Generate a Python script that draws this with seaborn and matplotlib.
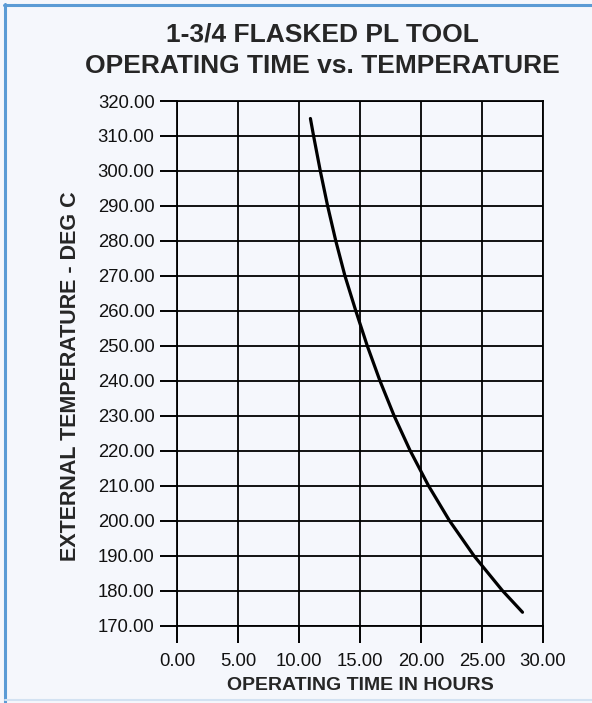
import matplotlib
matplotlib.use('Agg')
import matplotlib.pyplot as plt
from matplotlib.lines import Line2D
import pandas as pd
import seaborn as sns

# values
hours = [10.94, 11.2, 11.75, 12.35, 13.02, 13.77, 14.66, 15.6, 16.64,
         17.8, 19.12, 20.62, 22.34, 24.34, 26.68, 28.33]
temp_c = [315, 310, 300, 290, 280, 270, 260, 250, 240,
          230, 220, 210, 200, 190, 180, 173.8]
x_ticks = [0, 5, 10, 15, 20, 25, 30]
y_ticks = list(range(170, 321, 10))

title_lines = ['1-3/4 FLASKED PL TOOL', 'OPERATING TIME vs. TEMPERATURE']
x_label = 'OPERATING TIME IN HOURS'
y_label = 'EXTERNAL TEMPERATURE - DEG C'

df = pd.DataFrame({'Hours': hours, 'Temp': temp_c})

sns.set_style('ticks')
plt.rcParams['font.family'] = ['Liberation Sans', 'DejaVu Sans']

bg = '#f5f7fc'
fig = plt.figure(figsize=(5.92, 7.03), dpi=100, facecolor=bg)
ax = fig.add_axes([0.299, 0.1102, 0.618, 0.7461])
ax.set_facecolor(bg)

sns.lineplot(data=df, x='Hours', y='Temp', ax=ax, color='black',
             linewidth=2.3, sort=False)

ax.set_xlim(0, 30)
ax.set_ylim(170, 320)
ax.set_xticks(x_ticks)
ax.set_yticks(y_ticks)
ax.set_xticklabels([f'{v:.2f}' for v in x_ticks], fontsize=13.3)
ax.set_yticklabels([f'{v:.2f}' for v in y_ticks], fontsize=13.3)
# long outward ticks, like the grid lines running past the frame
ax.tick_params(axis='both', which='major', direction='out', length=12.2,
               width=1.4, color='black', labelcolor='#111111')
ax.tick_params(axis='y', pad=4.0)
ax.tick_params(axis='x', pad=7.5)
ax.grid(True, color='black', linewidth=1.3)
for s in ax.spines.values():
    s.set_visible(True)
    s.set_color('black')
    s.set_linewidth(1.3)

ax.set_xlabel(x_label, fontsize=14, fontweight='bold', labelpad=5)
ax.set_ylabel(y_label, fontsize=15.5, fontweight='bold')
ax.yaxis.set_label_coords(-0.262, 0.476)

# two-line bold title
fig.text(0.544, 1 - 42 / 703, title_lines[0], ha='center', va='baseline',
         fontsize=19, fontweight='bold')
fig.text(0.544, 1 - 73 / 703, title_lines[1], ha='center', va='baseline',
         fontsize=19, fontweight='bold')

# frame round the picture
fig.add_artist(Line2D([0.008, 0.008], [0, 0.994], transform=fig.transFigure,
                      color='#5b9bd5', linewidth=2.2))
fig.add_artist(Line2D([0.006, 1], [0.9935, 0.9935], transform=fig.transFigure,
                      color='#5b9bd5', linewidth=2.2))
fig.add_artist(Line2D([0.008, 1], [0.004, 0.004], transform=fig.transFigure,
                      color='#d3e2f2', linewidth=1.5))

fig.savefig('out.png', dpi=100, facecolor=bg)
